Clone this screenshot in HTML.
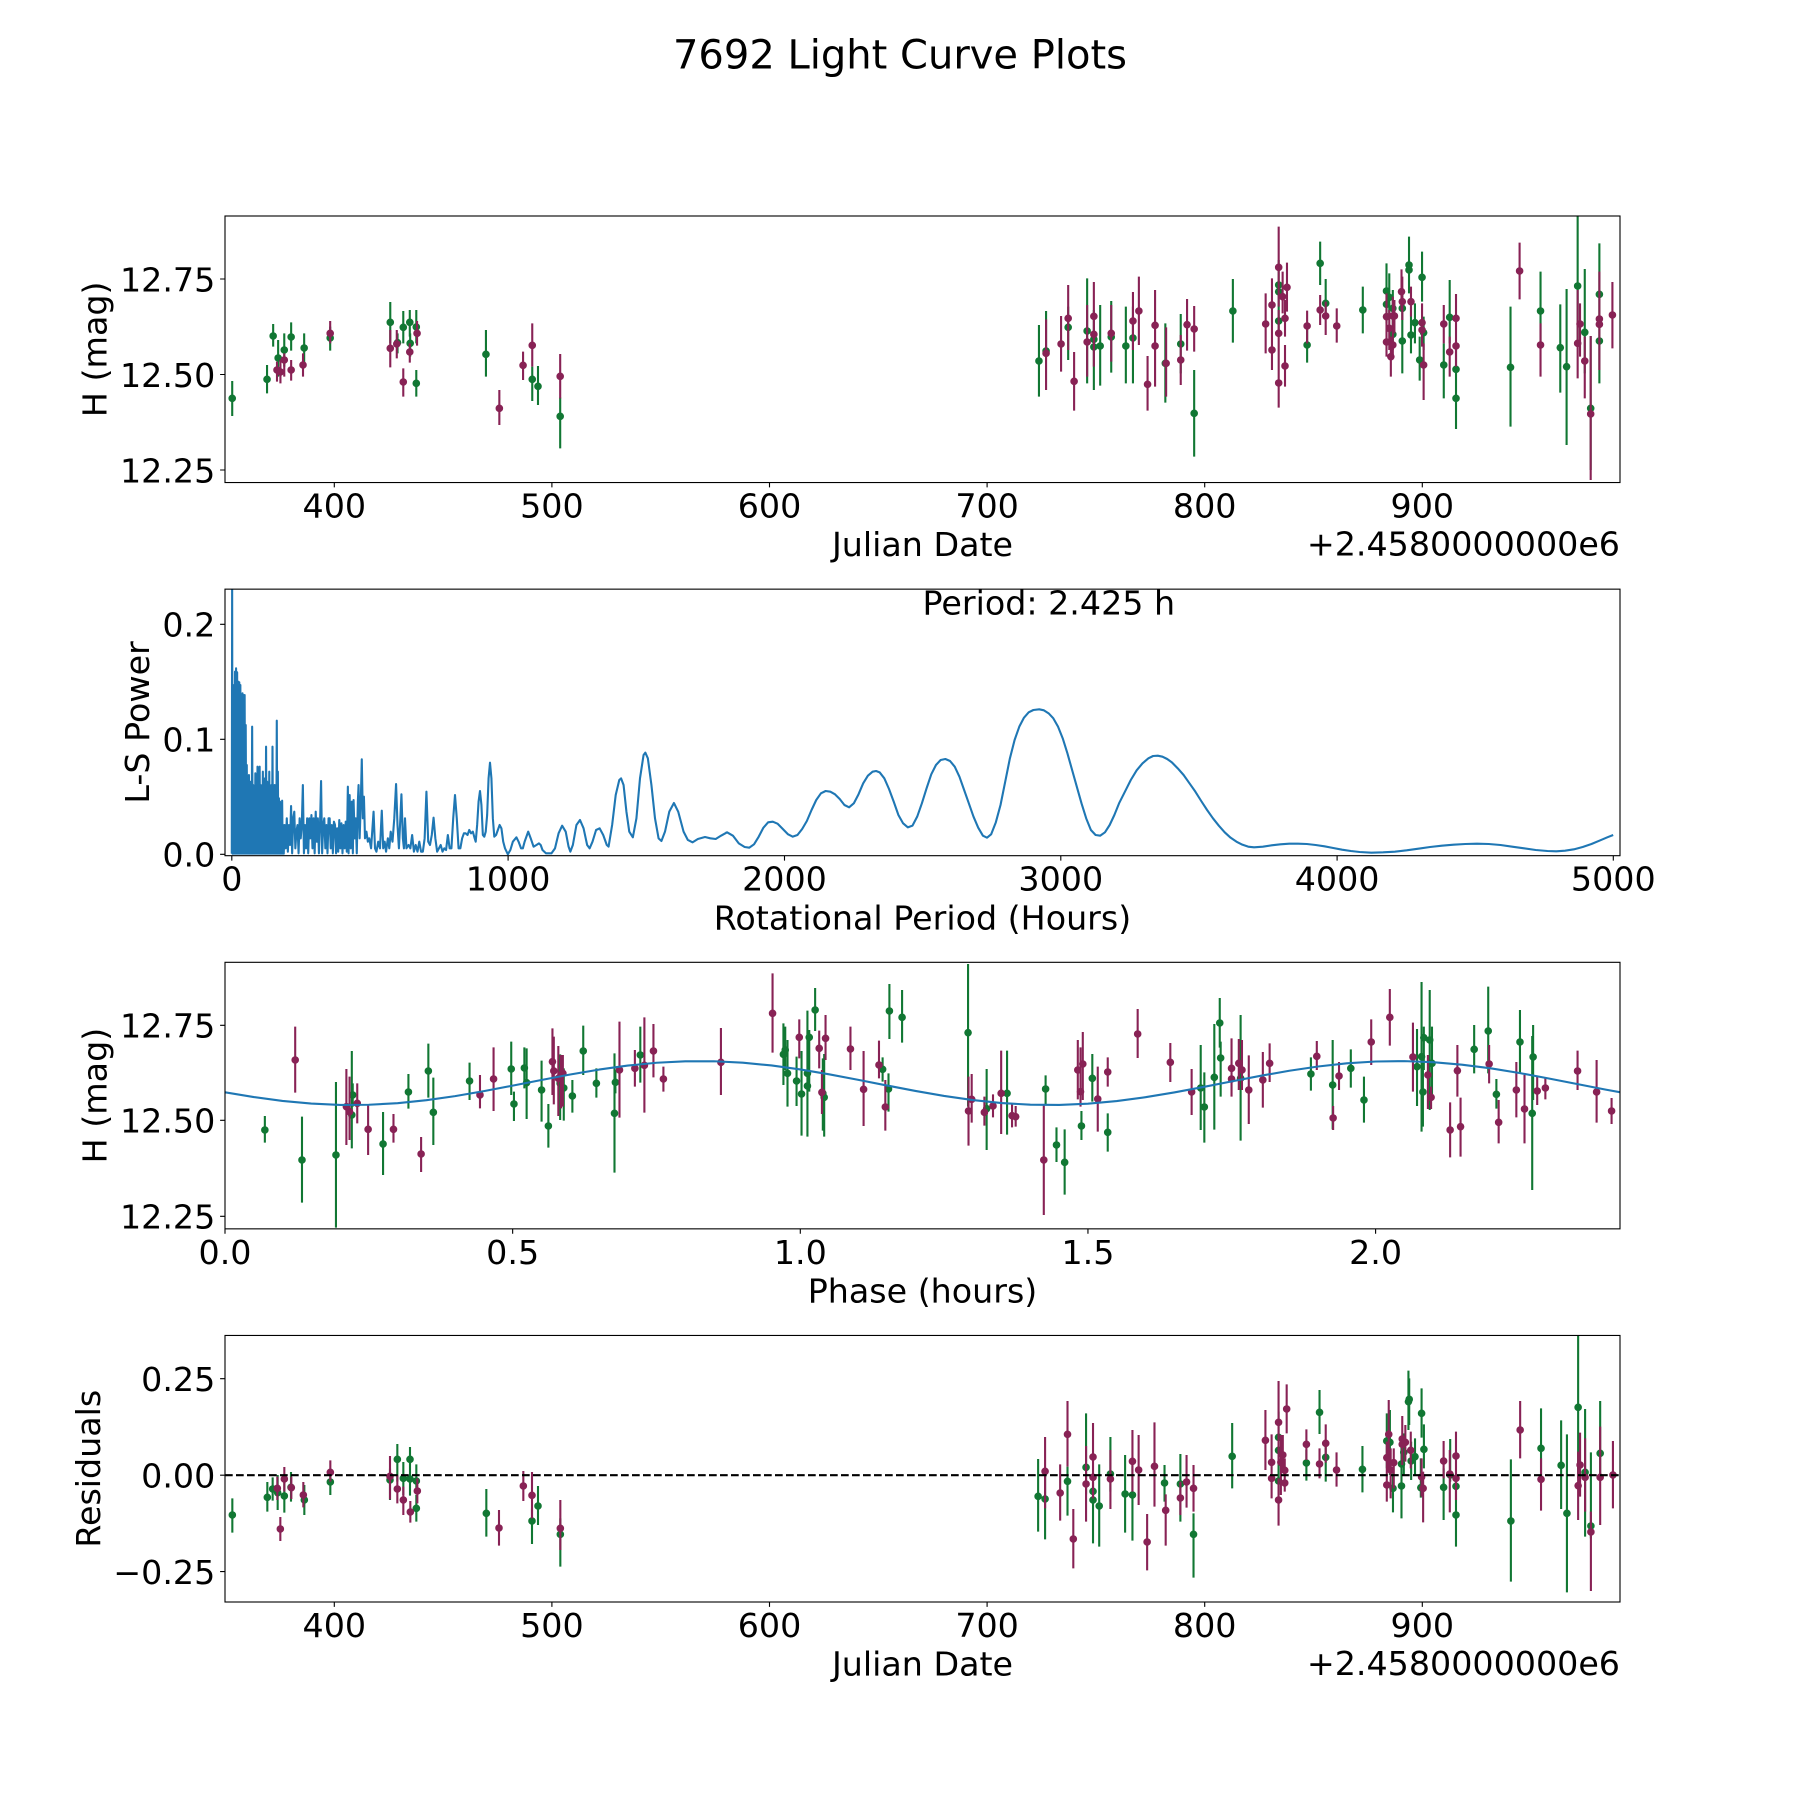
<!DOCTYPE html>
<html><head><meta charset="utf-8"><style>
html,body{margin:0;padding:0;background:#fff;}
svg{display:block;}
text{font-family:"DejaVu Sans","Liberation Sans",sans-serif;fill:#000;}
.t{font-size:33.3px;}
.g{stroke:#117733;fill:none;}
.m{stroke:#882255;fill:none;}
.b{stroke-width:2.1px;}
.d{stroke-width:7.6px;stroke-linecap:round;}
</style></head><body>
<svg width="1800" height="1800" viewBox="0 0 1800 1800" xmlns="http://www.w3.org/2000/svg">
<defs>
<clipPath id="c1"><rect x="225" y="216" width="1395" height="266.54"/></clipPath>
<clipPath id="c2"><rect x="225" y="589.15" width="1395" height="266.54"/></clipPath>
<clipPath id="c3"><rect x="225" y="962.31" width="1395" height="266.54"/></clipPath>
<clipPath id="c4"><rect x="225" y="1335.46" width="1395" height="266.54"/></clipPath>
</defs>
<rect width="1800" height="1800" fill="#fff"/>
<text x="900" y="68.3" text-anchor="middle" style="font-size:40px">7692 Light Curve Plots</text>

<!-- ================= AX1 ================= -->
<g clip-path="url(#c1)">
<g transform="translate(60,200) scale(0.3827,0.33333)">
<path class="g b" vector-effect="non-scaling-stroke" d="M450 543V648 M541 495V580 M557 372V440 M570 420V530 M586 400V500 M604 367V452 M638 400V490 M706 380V452 M863 306V430 M882 400V460 M897 333V430 M914 330V410 M915 400V470 M931 330V430 M931 510V590 M1113 390V530 M1234 500V603 M1249 498V615 M1307 593V745"/>
<path class="g d" vector-effect="non-scaling-stroke" d="M450 595h.01 M541 538h.01 M557 408h.01 M570 474h.01 M586 450h.01 M604 411h.01 M638 444h.01 M706 414h.01 M863 367h.01 M882 428h.01 M897 382h.01 M914 367h.01 M915 430h.01 M931 381h.01 M931 550h.01 M1113 463h.01 M1234 538h.01 M1249 559h.01 M1307 649h.01"/>
<path class="m b" vector-effect="non-scaling-stroke" d="M567 485V545 M576 480V550 M586 460V530 M604 480V542 M635 460V530 M706 363V430 M863 390V502 M880 390V475 M897 505V590 M914 430V488 M933 363V437 M1148 570V675 M1210 455V540 M1234 370V500 M1307 462V595"/>
<path class="m d" vector-effect="non-scaling-stroke" d="M567 510h.01 M576 516h.01 M586 480h.01 M604 510h.01 M635 495h.01 M706 400h.01 M863 445h.01 M880 432h.01 M897 546h.01 M914 456h.01 M933 400h.01 M1148 625h.01 M1210 496h.01 M1234 436h.01 M1307 529h.01"/>
</g>
<g transform="translate(1020,210) scale(0.39494,0.33333)">
<path class="g b" vector-effect="non-scaling-stroke" d="M48 345V560 M66 303V430 M122 290V450 M170 205V520 M187 300V540 M187 340V480 M203 285V527 M231 273V488 M268 290V520 M286 290V520 M368 340V578 M407 312V490 M441 480V740 M539 207V398 M655 150V300 M655 180V310 M655 280V380 M727 355V458 M760 95V225 M774 207V325 M868 230V370 M928 160V330 M928 200V340 M935 190V320 M944 240V360 M944 320V420 M968 300V490 M968 240V350 M985 80V250 M985 120V240 M990 290V430 M1000 280V400 M1012 380V512 M1018 125V275 M1022 320V420 M1073 400V565 M1088 210V400 M1104 420V540 M1104 505V657 M1242 290V650 M1318 185V400 M1368 283V548 M1384 237V705 M1412 0V400 M1430 177V490 M1445 378V780 M1467 100V520 M1467 320V490"/>
<path class="g d" vector-effect="non-scaling-stroke" d="M48 453h.01 M66 423h.01 M122 352h.01 M170 363h.01 M187 388h.01 M187 411h.01 M203 408h.01 M231 381h.01 M268 408h.01 M286 384h.01 M368 460h.01 M407 402h.01 M441 610h.01 M539 303h.01 M655 225h.01 M655 245h.01 M655 333h.01 M727 405h.01 M760 160h.01 M774 280h.01 M868 300h.01 M928 243h.01 M928 283h.01 M935 262h.01 M944 295h.01 M944 373h.01 M968 393h.01 M968 295h.01 M985 165h.01 M985 180h.01 M990 375h.01 M1000 338h.01 M1012 450h.01 M1018 202h.01 M1022 368h.01 M1073 465h.01 M1088 322h.01 M1104 478h.01 M1104 565h.01 M1242 472h.01 M1318 303h.01 M1368 413h.01 M1384 470h.01 M1412 228h.01 M1430 367h.01 M1445 595h.01 M1467 253h.01 M1467 393h.01"/>
<path class="m b" vector-effect="non-scaling-stroke" d="M66 328V540 M104 318V485 M122 225V420 M137 426V602 M170 285V500 M187 216V400 M187 300V470 M231 285V455 M286 246V420 M301 200V405 M323 438V602 M342 240V450 M342 290V530 M370 352V560 M407 375V525 M423 267V422 M441 288V425 M622 250V430 M638 205V360 M638 360V480 M655 50V290 M655 300V440 M655 430V593 M665 185V310 M676 158V305 M671 270V380 M671 405V530 M727 302V400 M760 255V345 M774 275V375 M802 295V398 M928 250V440 M928 340V440 M935 300V420 M939 380V500 M944 260V380 M944 350V440 M948 270V370 M966 178V300 M968 200V330 M990 230V320 M1018 280V400 M1018 310V410 M1022 400V570 M1073 285V400 M1088 380V500 M1104 252V400 M1104 330V470 M1265 98V268 M1318 340V500 M1412 240V505 M1418 280V440 M1430 380V565 M1445 378V810 M1467 185V480 M1467 250V440 M1500 216V415"/>
<path class="m d" vector-effect="non-scaling-stroke" d="M66 430h.01 M104 402h.01 M122 325h.01 M137 514h.01 M170 396h.01 M187 319h.01 M187 373h.01 M231 370h.01 M286 333h.01 M301 303h.01 M323 523h.01 M342 346h.01 M342 408h.01 M370 460h.01 M407 450h.01 M423 344h.01 M441 357h.01 M622 342h.01 M638 285h.01 M638 420h.01 M655 172h.01 M655 370h.01 M655 519h.01 M665 260h.01 M676 232h.01 M671 325h.01 M671 468h.01 M727 348h.01 M760 300h.01 M774 318h.01 M802 348h.01 M928 320h.01 M928 396h.01 M935 355h.01 M939 440h.01 M944 318h.01 M944 405h.01 M948 318h.01 M966 245h.01 M968 275h.01 M990 275h.01 M1018 338h.01 M1018 360h.01 M1022 465h.01 M1073 342h.01 M1088 426h.01 M1104 325h.01 M1104 408h.01 M1265 183h.01 M1318 405h.01 M1412 400h.01 M1418 342h.01 M1430 453h.01 M1445 612h.01 M1467 327h.01 M1467 343h.01 M1500 315h.01"/>
</g>
</g>
<rect x="225" y="216" width="1395" height="266.54" fill="none" stroke="#000" stroke-width="1.11"/>
<path stroke="#000" stroke-width="1.11" d="M334.3 482.5v4.9 M551.9 482.5v4.9 M769.5 482.5v4.9 M987.1 482.5v4.9 M1204.7 482.5v4.9 M1422.3 482.5v4.9 M225 279h-4.9 M225 374.5h-4.9 M225 470h-4.9"/>
<g class="t" text-anchor="middle">
<text x="334.3" y="517.5">400</text><text x="551.9" y="517.5">500</text><text x="769.5" y="517.5">600</text><text x="987.1" y="517.5">700</text><text x="1204.7" y="517.5">800</text><text x="1422.3" y="517.5">900</text>
<text x="922.5" y="556">Julian Date</text>
</g>
<g class="t" text-anchor="end">
<text x="215.3" y="291.3">12.75</text><text x="215.3" y="386.8">12.50</text><text x="215.3" y="482.3">12.25</text>
<text x="1620" y="555.5">+2.4580000000e6</text>
</g>
<text class="t" text-anchor="middle" transform="translate(106.5,349.3) rotate(-90)">H (mag)</text>

<!-- ================= AX2 ================= -->
<g clip-path="url(#c2)">
<g transform="translate(180,585) scale(0.35714,0.33333)">
<path fill="none" stroke="#1f77b4" stroke-width="2.1" stroke-linejoin="round" vector-effect="non-scaling-stroke" d="M145 806 L146 0 L147 806 L148 300 L149.5 806 L151 300 L152.5 806 L154 260 L155.5 806 L157 250 L158.5 806 L160 262 L161.5 806 L163 290 L164.5 806 L166 292 L167.5 806 L169 300 L170.5 806 L172 345 L173.5 806 L175 325 L176.5 806 L178 330 L179.5 806 L181 330 L182.5 806 L184 420 L185.5 806 L187 540 L188.5 806 L190 580 L191.5 806 L193 570 L194.5 806 L196 590 L197.5 806 L199 600 L200.5 806 L202 425 L203.5 806 L205 600 L206.5 806 L208 620 L209.5 806 L211 565 L212.5 806 L214 600 L215.5 806 L217 545 L218.5 806 L220 550 L221.5 806 L223 545 L224.5 806 L226 600 L227.5 806 L229 610 L230.5 806 L232 560 L233.5 806 L235 610 L236.5 806 L238 580 L239.5 806 L241 485 L242.5 806 L244 590 L245.5 806 L247 600 L248.5 806 L250 560 L251.5 806 L253 620 L254.5 806 L256 600 L257.5 806 L259 485 L260.5 806 L262 620 L263.5 806 L265 600 L266.5 806 L268 640 L269.5 806 L271 407 L272.5 806 L274 560 L275.5 806 L277 640 L278.5 806 L280 650 L281.5 806 L283 700 L284.5 806 L286 647 L287.5 806 L289 720 L290.5 806 L293 720 L296 790 L299 700 L302 800 L305 720 L308 780 L311 663 L314 805 L317 700 L320 680 L323 790 L326 740 L329 720 L332 805 L335 700 L338 760 L341 720 L344 600 L347 805 L350 720 L353 790 L356 700 L359 805 L362 700 L365 760 L368 690 L371 790 L374 700 L377 805 L380 680 L383 770 L386 700 L389 805 L392 720 L395 588 L398 805 L401 720 L404 700 L407 790 L410 720 L413 805 L416 700 L419 700 L422 790 L425 720 L428 805 L431 710 L434 720 L437 805 L440 730 L443 800 L446 705 L449 790 L452 715 L455 805 L458 720 L461 790 L464 710 L467 800 L470 605 L472 805 L475 630 L478 790 L481 650 L484 805 L486 645 L489 760 L492 700 L495 805 L498 650 L500 600 L503 760 L506 660 L509 523 L512 700 L515 635 L518 760 L522 740 L526 770 L530 760 L535 790 L542 680 L546 790 L550 800 L555 770 L560 790 L565 677 L569 790 L573 770 L577 800 L582 760 L586 790 L590 740 L595 770 L600 700 L605 597 L609 720 L613 790 L617 700 L620 628 L624 760 L627 790 L630 700 L634 790 L640 780 L645 790 L650 750 L655 800 L660 780 L665 800 L670 770 L675 800 L680 800 L685 760 L690 620 L695 770 L700 780 L705 750 L710 698 L715 760 L720 800 L725 790 L730 780 L735 800 L740 790 L745 795 L750 750 L755 790 L760 790 L765 700 L770 630 L775 700 L780 790 L785 790 L790 760 L795 745 L800 745 L805 750 L810 735 L815 745 L820 740 L825 760 L828 770 L832 720 L836 650 L840 618 L844 660 L848 750 L852 755 L856 740 L860 690 L864 580 L868 533 L872 580 L876 700 L880 755 L885 750 L890 735 L895 720 L900 730 L905 770 L910 790 L918 808 L925 795 L932 770 L942 757 L948 770 L955 790 L960 790 L965 770 L975 740 L982 760 L990 785 L998 780 L1005 775 L1010 780 L1015 795 L1025 805 L1040 805 L1050 790 L1060 745 L1070 722 L1080 740 L1088 785 L1093 800 L1100 780 L1110 720 L1120 705 L1130 730 L1140 780 L1147 790 L1155 770 L1165 735 L1175 730 L1185 750 L1195 780 L1200 785 L1210 720 L1220 630 L1230 585 L1235 580 L1242 600 L1250 680 L1258 740 L1268 757 L1278 700 L1288 580 L1298 510 L1303 503 L1310 520 L1320 600 L1330 700 L1340 760 L1348 768 L1358 740 L1370 680 L1383 654 L1395 680 L1410 740 L1422 765 L1435 772 L1450 762 L1470 756 L1485 760 L1500 762 L1515 752 L1530 743"/>
</g>
<g transform="translate(720,585) scale(0.58685,0.33333)">
<path fill="none" stroke="#1f77b4" stroke-width="2.1" stroke-linejoin="round" vector-effect="non-scaling-stroke" d="M10 743 L12 742 L22 752 L32 775 L42 786 L50 788 L58 778 L66 755 L74 728 L82 712 L90 710 L98 716 L106 730 L116 748 L124 755 L132 750 L140 732 L148 708 L156 675 L164 645 L172 625 L180 618 L188 620 L196 628 L204 642 L212 660 L220 667 L228 655 L236 628 L244 595 L252 572 L260 560 L266 558 L272 562 L280 580 L288 612 L296 650 L304 690 L312 715 L320 727 L328 722 L336 695 L344 655 L352 610 L360 568 L368 540 L376 525 L384 522 L392 528 L400 545 L408 575 L416 615 L424 655 L432 695 L440 728 L448 752 L455 758 L462 748 L470 712 L478 660 L486 590 L494 520 L502 465 L510 425 L518 398 L526 382 L534 375 L544 373 L552 376 L560 385 L568 400 L576 425 L584 460 L592 505 L600 555 L608 605 L616 655 L624 700 L632 735 L640 750 L648 752 L656 742 L664 720 L672 690 L680 655 L690 620 L700 585 L710 556 L720 535 L730 520 L738 513 L746 512 L754 515 L762 522 L770 532 L780 550 L790 570 L800 595 L810 620 L820 648 L830 675 L840 700 L850 722 L860 742 L870 758 L880 770 L890 779 L900 785 L910 787 L925 785 L940 781 L955 778 L970 776 L985 776 L1000 777 L1015 780 L1030 784 L1045 789 L1060 794 L1075 798 L1090 801 L1110 803 L1130 802 L1150 800 L1170 796 L1190 791 L1210 786 L1230 782 L1250 779 L1270 777 L1290 776 L1310 777 L1330 780 L1350 785 L1370 790 L1390 795 L1410 798 L1425 799 L1440 797 L1455 793 L1470 786 L1485 777 L1500 766 L1512 757 L1522 750"/>
</g>
</g>
<rect x="225" y="589.15" width="1395" height="266.54" fill="none" stroke="#000" stroke-width="1.11"/>
<path stroke="#000" stroke-width="1.11" d="M231.8 855.7v4.9 M508.1 855.7v4.9 M784.5 855.7v4.9 M1060.8 855.7v4.9 M1337.1 855.7v4.9 M1613.3 855.7v4.9 M225 854.3h-4.9 M225 739.3h-4.9 M225 624.3h-4.9"/>
<g class="t" text-anchor="middle">
<text x="231.8" y="890.7">0</text><text x="508.1" y="890.7">1000</text><text x="784.5" y="890.7">2000</text><text x="1060.8" y="890.7">3000</text><text x="1337.1" y="890.7">4000</text><text x="1613.3" y="890.7">5000</text>
<text x="922.5" y="929.3">Rotational Period (Hours)</text>
</g>
<g class="t" text-anchor="end">
<text x="215.3" y="866.6">0.0</text><text x="215.3" y="751.6">0.1</text><text x="215.3" y="636.6">0.2</text>
</g>
<text class="t" x="922.5" y="614.5">Period: 2.425 h</text>
<text class="t" text-anchor="middle" transform="translate(148.8,722.4) rotate(-90)">L-S Power</text>

<!-- ================= AX3 ================= -->
<g clip-path="url(#c3)">
<g transform="translate(225,960) scale(0.4529,0.33333)">
<path class="g b" vector-effect="non-scaling-stroke" d="M88 468V548 M170 470V728 M245 366V803 M280 273V565 M282 370V440 M349 456V645 M405 342V446 M449 251V413 M460 353V555 M540 308V420 M632 245V405 M638 395V483 M661 262V385 M666 265V477 M699 302V485 M714 432V563 M740 283V480 M748 325V482 M767 360V458 M791 197V345 M820 325V413 M860 280V638 M862 330V400 M917 200V368 M1233 190V375 M1237 200V330 M1242 240V440 M1262 290V438 M1273 273V527 M1286 152V530 M1286 265V495 M1290 210V395 M1303 84V213 M1320 295V512 M1323 282V530 M1452 292V365 M1465 340V455 M1467 72V237 M1495 90V248"/>
<path class="g d" vector-effect="non-scaling-stroke" d="M88 510h.01 M170 600h.01 M245 585h.01 M280 465h.01 M282 405h.01 M349 552h.01 M405 396h.01 M449 333h.01 M460 457h.01 M540 363h.01 M632 327h.01 M638 432h.01 M661 324h.01 M666 368h.01 M699 390h.01 M714 498h.01 M740 370h.01 M748 384h.01 M767 408h.01 M791 273h.01 M820 370h.01 M860 460h.01 M862 367h.01 M917 285h.01 M1233 283h.01 M1237 270h.01 M1242 340h.01 M1262 363h.01 M1273 402h.01 M1286 340h.01 M1286 378h.01 M1290 232h.01 M1303 150h.01 M1320 400h.01 M1323 412h.01 M1452 328h.01 M1465 387h.01 M1467 153h.01 M1495 172h.01"/>
<path class="m b" vector-effect="non-scaling-stroke" d="M155 200V398 M268 327V555 M275 350V540 M292 370V490 M316 432V585 M372 462V548 M433 531V636 M563 345V445 M593 262V453 M723 205V405 M726 230V433 M736 258V468 M742 285V445 M746 285V440 M871 185V473 M905 270V380 M926 172V458 M946 192V352 M968 320V395 M1095 204V405 M1209 40V278 M1268 178V295 M1312 212V325 M1318 330V462 M1326 165V300 M1381 200V330 M1410 273V498 M1444 242V355 M1458 360V512"/>
<path class="m d" vector-effect="non-scaling-stroke" d="M155 300h.01 M268 440h.01 M275 455h.01 M292 430h.01 M316 508h.01 M372 508h.01 M433 582h.01 M563 405h.01 M593 357h.01 M723 305h.01 M726 333h.01 M736 355h.01 M742 345h.01 M746 340h.01 M871 330h.01 M905 325h.01 M926 316h.01 M946 273h.01 M968 357h.01 M1095 307h.01 M1209 160h.01 M1268 232h.01 M1312 265h.01 M1318 397h.01 M1326 235h.01 M1381 267h.01 M1410 388h.01 M1444 315h.01 M1458 441h.01"/>
</g>
<g transform="translate(915,960) scale(0.4535,0.33333)">
<path class="g b" vector-effect="non-scaling-stroke" d="M117 12V440 M158 327V570 M203 272V524 M288 346V432 M312 502V606 M330 508V704 M367 453V540 M391 282V425 M425 460V575 M630 255V510 M638 337V548 M660 192V509 M672 114V263 M674 245V410 M718 165V542 M873 292V392 M921 240V508 M961 268V383 M990 350V488 M1107 207V438 M1117 66V515 M1120 290V500 M1122 200V330 M1135 90V450 M1140 200V420 M1233 195V340 M1264 80V340 M1282 357V446 M1334 150V340 M1361 228V690 M1363 195V420"/>
<path class="g d" vector-effect="non-scaling-stroke" d="M117 218h.01 M158 446h.01 M203 400h.01 M288 387h.01 M312 555h.01 M330 607h.01 M367 498h.01 M391 355h.01 M425 517h.01 M630 384h.01 M638 441h.01 M660 352h.01 M672 189h.01 M674 294h.01 M718 355h.01 M873 342h.01 M921 375h.01 M961 325h.01 M990 420h.01 M1107 320h.01 M1117 290h.01 M1120 396h.01 M1122 233h.01 M1135 240h.01 M1140 310h.01 M1233 268h.01 M1264 213h.01 M1282 403h.01 M1334 246h.01 M1361 460h.01 M1363 291h.01"/>
<path class="m b" vector-effect="non-scaling-stroke" d="M118 350V557 M125 342V488 M153 410V497 M172 403V472 M190 272V522 M214 432V502 M222 438V500 M284 435V765 M359 240V418 M365 262V440 M370 216V420 M403 320V515 M425 292V380 M491 147V294 M563 249V366 M610 327V465 M698 235V410 M698 320V395 M714 237V390 M721 240V390 M736 286V492 M767 276V443 M782 250V366 M886 243V330 M922 438V510 M935 306V390 M1006 178V315 M1047 87V257 M1098 188V395 M1131 285V447 M1138 380V447 M1180 427V592 M1196 255V410 M1203 413V590 M1266 255V370 M1287 420V550 M1326 306V472 M1344 345V550 M1372 350V435 M1390 352V418 M1461 272V390 M1503 300V488 M1536 414V492"/>
<path class="m d" vector-effect="non-scaling-stroke" d="M118 453h.01 M125 418h.01 M153 457h.01 M172 438h.01 M190 400h.01 M214 467h.01 M222 470h.01 M284 600h.01 M359 330h.01 M365 395h.01 M370 312h.01 M403 417h.01 M425 336h.01 M491 222h.01 M563 307h.01 M610 396h.01 M698 325h.01 M698 357h.01 M714 310h.01 M721 330h.01 M736 390h.01 M767 360h.01 M782 310h.01 M886 289h.01 M922 474h.01 M935 348h.01 M1006 246h.01 M1047 172h.01 M1098 291h.01 M1131 345h.01 M1138 412h.01 M1180 510h.01 M1196 332h.01 M1203 500h.01 M1266 312h.01 M1287 487h.01 M1326 390h.01 M1344 447h.01 M1372 393h.01 M1390 384h.01 M1461 333h.01 M1503 396h.01 M1536 453h.01"/>
</g>
<path fill="none" stroke="#1f77b4" stroke-width="2.1" stroke-linejoin="round" d="M225 1092.25 L253.8 1097.05 L282.5 1100.93 L311.3 1103.6 L340.1 1104.91 L368.8 1104.75 L397.6 1103.15 L426.4 1100.21 L455.1 1096.11 L483.9 1091.15 L512.7 1085.65 L541.4 1079.97 L570.2 1074.5 L599 1069.6 L627.7 1065.6 L656.5 1062.76 L685.2 1061.28 L714 1061.25 L742.8 1062.67 L771.5 1065.46 L800.3 1069.42 L829.1 1074.29 L857.8 1079.75 L886.6 1085.42 L915.4 1090.94 L944.1 1095.93 L972.9 1100.06 L1001.7 1103.06 L1030.4 1104.71 L1059.2 1104.93 L1087.95 1103.68 L1116.7 1101.06 L1145.5 1097.22 L1174.2 1092.46 L1203 1087.05 L1231.8 1081.39 L1260.5 1075.83 L1289.3 1070.75 L1318.1 1066.5 L1346.8 1063.35 L1375.6 1061.51 L1404.4 1061.12 L1433.1 1062.18 L1461.9 1064.65 L1490.7 1068.34 L1519.4 1073.01 L1548.2 1078.35 L1577 1084 L1605.7 1089.6 L1620 1092.25"/>
</g>
<rect x="225" y="962.31" width="1395" height="266.54" fill="none" stroke="#000" stroke-width="1.11"/>
<path stroke="#000" stroke-width="1.11" d="M225 1228.85v4.9 M512.65 1228.85v4.9 M800.3 1228.85v4.9 M1087.95 1228.85v4.9 M1375.6 1228.85v4.9 M225 1025.3h-4.9 M225 1120.3h-4.9 M225 1216.3h-4.9"/>
<g class="t" text-anchor="middle">
<text x="225" y="1263.8">0.0</text><text x="512.65" y="1263.8">0.5</text><text x="800.3" y="1263.8">1.0</text><text x="1087.95" y="1263.8">1.5</text><text x="1375.6" y="1263.8">2.0</text>
<text x="922.5" y="1302.4">Phase (hours)</text>
</g>
<g class="t" text-anchor="end">
<text x="215.3" y="1037.6">12.75</text><text x="215.3" y="1132.6">12.50</text><text x="215.3" y="1228.6">12.25</text>
</g>
<text class="t" text-anchor="middle" transform="translate(106.5,1095.6) rotate(-90)">H (mag)</text>

<!-- ================= AX4 ================= -->
<g clip-path="url(#c4)">
<g transform="translate(225,1335) scale(0.33333,0.33333)">
<path class="g b" vector-effect="non-scaling-stroke" d="M22 490V593 M127 441V530 M143 427V497 M158 420V525 M178 440V533 M198 411V500 M238 450V540 M316 410V480 M495 400V495 M517 327V440 M535 381V480 M555 336V420 M555 395V482 M574 388V478 M574 480V560 M784 462V605 M921 520V627 M939 453V570 M1006 550V695"/>
<path class="g d" vector-effect="non-scaling-stroke" d="M22 540h.01 M127 487h.01 M143 462h.01 M158 473h.01 M178 483h.01 M198 457h.01 M238 495h.01 M316 441h.01 M495 435h.01 M517 373h.01 M535 430h.01 M555 373h.01 M555 432h.01 M574 438h.01 M574 520h.01 M784 535h.01 M921 558h.01 M939 513h.01 M1006 598h.01"/>
<path class="m b" vector-effect="non-scaling-stroke" d="M157 425V495 M166 546V618 M178 396V470 M199 425V492 M235 441V517 M316 376V440 M495 363V493 M517 420V505 M535 455V540 M556 498V563 M577 430V505 M822 525V632 M895 408V498 M921 411V550 M1006 495V645"/>
<path class="m d" vector-effect="non-scaling-stroke" d="M157 460h.01 M166 582h.01 M178 432h.01 M199 458h.01 M235 480h.01 M316 412h.01 M495 424h.01 M517 462h.01 M535 495h.01 M556 531h.01 M577 468h.01 M822 579h.01 M895 453h.01 M921 481h.01 M1006 580h.01"/>
</g>
<g transform="translate(1018.8,1335) scale(0.38655,0.33333)">
<path class="g b" vector-effect="non-scaling-stroke" d="M50 372V590 M68 410V613 M126 395V542 M174 235V478 M192 440V625 M192 440V600 M208 388V635 M237 306V470 M275 360V593 M294 370V617 M377 390V500 M418 357V560 M452 535V728 M552 264V460 M672 230V385 M672 300V420 M672 380V480 M744 345V437 M778 165V297 M794 325V440 M889 333V472 M952 235V400 M960 225V420 M968 415V532 M990 390V550 M990 320V430 M996 295V420 M1015 320V435 M1008 107V285 M1010 130V270 M1025 310V420 M1042 160V308 M1048 268V400 M1040 370V488 M1099 400V555 M1116 312V440 M1131 420V500 M1131 495V635 M1273 373V740 M1351 220V440 M1403 256V522 M1418 298V772 M1447 0V430 M1465 222V605 M1480 352V610 M1504 198V422"/>
<path class="g d" vector-effect="non-scaling-stroke" d="M50 484h.01 M68 492h.01 M126 439h.01 M174 397h.01 M192 469h.01 M192 495h.01 M208 513h.01 M237 417h.01 M275 477h.01 M294 480h.01 M377 444h.01 M418 447h.01 M452 598h.01 M552 364h.01 M672 307h.01 M672 346h.01 M672 438h.01 M744 384h.01 M778 232h.01 M794 367h.01 M889 403h.01 M952 318h.01 M960 322h.01 M968 460h.01 M990 453h.01 M990 387h.01 M996 352h.01 M1015 378h.01 M1008 200h.01 M1010 193h.01 M1025 365h.01 M1042 235h.01 M1048 343h.01 M1040 458h.01 M1099 457h.01 M1116 420h.01 M1131 454h.01 M1131 540h.01 M1273 558h.01 M1351 340h.01 M1403 391h.01 M1418 535h.01 M1447 217h.01 M1465 412h.01 M1480 573h.01 M1504 355h.01"/>
<path class="m b" vector-effect="non-scaling-stroke" d="M68 306V520 M107 388V557 M126 198V395 M141 522V700 M174 333V560 M192 264V458 M192 370V490 M237 345V522 M294 285V470 M310 300V510 M332 537V706 M351 262V515 M380 478V632 M418 440V540 M434 360V518 M452 390V530 M638 225V405 M654 298V490 M654 395V460 M672 138V380 M678 300V480 M672 430V572 M683 300V408 M688 370V440 M688 400V470 M693 148V295 M744 283V375 M778 340V430 M794 268V383 M822 352V455 M952 400V500 M952 320V420 M957 195V400 M962 340V490 M970 340V460 M992 243V390 M992 265V370 M1000 270V380 M1014 290V400 M1042 370V485 M1046 410V562 M1099 318V430 M1115 345V532 M1131 290V440 M1131 370V495 M1297 198V370 M1351 370V527 M1447 350V555 M1452 293V485 M1465 310V530 M1480 530V768 M1504 275V570 M1537 318V520"/>
<path class="m d" vector-effect="non-scaling-stroke" d="M68 409h.01 M107 474h.01 M126 298h.01 M141 612h.01 M174 447h.01 M192 366h.01 M192 427h.01 M237 432h.01 M294 379h.01 M310 405h.01 M332 621h.01 M351 394h.01 M380 526h.01 M418 489h.01 M434 441h.01 M452 460h.01 M638 316h.01 M654 382h.01 M654 430h.01 M672 262h.01 M678 382h.01 M672 495h.01 M683 360h.01 M688 406h.01 M688 444h.01 M693 222h.01 M744 328h.01 M778 387h.01 M794 325h.01 M822 405h.01 M952 450h.01 M952 368h.01 M957 298h.01 M962 405h.01 M970 383h.01 M992 328h.01 M992 312h.01 M1000 322h.01 M1014 346h.01 M1042 426h.01 M1046 460h.01 M1099 378h.01 M1115 417h.01 M1131 363h.01 M1131 430h.01 M1297 285h.01 M1351 433h.01 M1447 452h.01 M1452 390h.01 M1465 427h.01 M1480 591h.01 M1504 427h.01 M1537 420h.01"/>
</g>
<path d="M225 1475.2H1620" stroke="#000" stroke-width="2.08" stroke-dasharray="7.7 3.3" fill="none"/>
</g>
<rect x="225" y="1335.46" width="1395" height="266.54" fill="none" stroke="#000" stroke-width="1.11"/>
<path stroke="#000" stroke-width="1.11" d="M334.3 1602v4.9 M551.9 1602v4.9 M769.5 1602v4.9 M987.1 1602v4.9 M1204.7 1602v4.9 M1422.3 1602v4.9 M225 1378.7h-4.9 M225 1475.2h-4.9 M225 1571.6h-4.9"/>
<g class="t" text-anchor="middle">
<text x="334.3" y="1637">400</text><text x="551.9" y="1637">500</text><text x="769.5" y="1637">600</text><text x="987.1" y="1637">700</text><text x="1204.7" y="1637">800</text><text x="1422.3" y="1637">900</text>
<text x="922.5" y="1675.5">Julian Date</text>
</g>
<g class="t" text-anchor="end">
<text x="215.3" y="1391">0.25</text><text x="215.3" y="1487.5">0.00</text><text x="215.3" y="1583.9">−0.25</text>
<text x="1620" y="1675">+2.4580000000e6</text>
</g>
<text class="t" text-anchor="middle" transform="translate(99.8,1468.7) rotate(-90)">Residuals</text>
</svg>
</body></html>
